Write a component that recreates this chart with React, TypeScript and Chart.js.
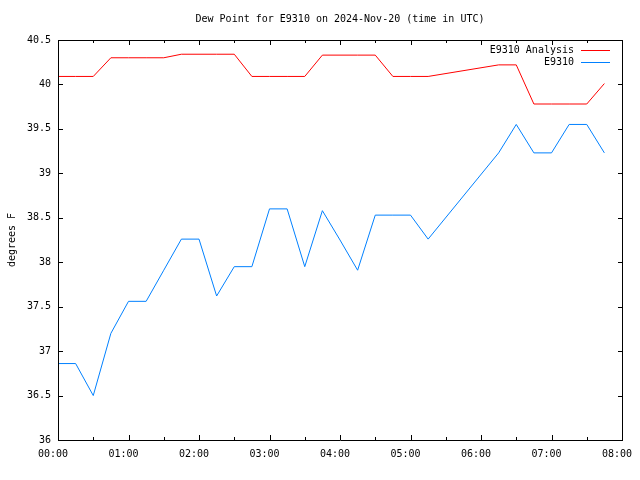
import React, { useEffect, useRef } from "react";
import { Chart, registerables } from "chart.js";

Chart.register(...registerables);

const chartTitle = "Dew Point for E9310 on 2024-Nov-20 (time in UTC)";
const yAxisTitle = "degrees F";
const seriesNames = ["E9310 Analysis", "E9310"];
const seriesColors = ["#ff0000", "#0080ff"];

const times = [
  "00:00", "00:15", "00:30", "00:45", "01:00", "01:15", "01:30", "01:45",
  "02:00", "02:15", "02:30", "02:45", "03:00", "03:15", "03:30", "03:45",
  "04:00", "04:15", "04:30", "04:45", "05:00", "05:15", "06:15", "06:30",
  "06:45", "07:00", "07:15", "07:30", "07:45",
];

const analysis = [
  40.09, 40.09, 40.09, 40.3, 40.3, 40.3, 40.3, 40.34,
  40.34, 40.34, 40.34, 40.09, 40.09, 40.09, 40.09, 40.33,
  40.33, 40.33, 40.33, 40.09, 40.09, 40.09, 40.22, 40.22,
  39.78, 39.78, 39.78, 39.78, 40.01,
];

const observed = [
  36.86, 36.86, 36.5, 37.2, 37.56, 37.56, 37.91, 38.26,
  38.26, 37.62, 37.95, 37.95, 38.6, 38.6, 37.95, 38.58,
  38.25, 37.91, 38.53, 38.53, 38.53, 38.26, 39.23, 39.55,
  39.23, 39.23, 39.55, 39.55, 39.23,
];

const xMin = 0;
const xMax = 480;
const xStep = 30;
const yMin = 36;
const yMax = 40.5;
const yStep = 0.5;

const FONT = "'DejaVu Sans Mono', 'Liberation Mono', monospace";

function toMinutes(t: string): number {
  const [h, m] = t.split(":").map(Number);
  return h * 60 + m;
}

function fmtTime(v: number): string {
  const h = Math.floor(v / 60);
  const m = v % 60;
  return `${String(h).padStart(2, "0")}:${String(m).padStart(2, "0")}`;
}

const framePlugin = {
  id: "gnuplotFrame",
  afterDraw(chart: any) {
    const { ctx, chartArea, scales } = chart;
    const { left, right, top, bottom } = chartArea;
    ctx.save();
    ctx.strokeStyle = "#000";
    ctx.lineWidth = 1;
    ctx.beginPath();
    ctx.rect(left + 0.5, top + 0.5, right - left, bottom - top);
    ctx.stroke();
    ctx.beginPath();
    const xs = scales.x;
    xs.ticks.forEach((t: any) => {
      const px = Math.round(xs.getPixelForValue(t.value)) + 0.5;
      const len = t.value % 60 === 0 ? 5 : 3;
      ctx.moveTo(px, bottom);
      ctx.lineTo(px, bottom - len);
      ctx.moveTo(px, top);
      ctx.lineTo(px, top + len);
    });
    const ys = scales.y;
    ys.ticks.forEach((t: any) => {
      const py = Math.round(ys.getPixelForValue(t.value)) + 0.5;
      ctx.moveTo(left, py);
      ctx.lineTo(left + 5, py);
      ctx.moveTo(right + 1, py);
      ctx.lineTo(right + 1 - 5, py);
    });
    ctx.stroke();

    // gnuplot-style key: text then line sample, top right
    ctx.font = `10px ${FONT}`;
    ctx.textAlign = "right";
    ctx.textBaseline = "middle";
    chart.data.datasets.forEach((ds: any, i: number) => {
      const y = top + 10 + i * 12;
      ctx.fillStyle = "#000";
      ctx.fillText(ds.label, right - 48, y);
      ctx.strokeStyle = ds.borderColor;
      ctx.beginPath();
      ctx.moveTo(right - 41, y + 0.5);
      ctx.lineTo(right - 12, y + 0.5);
      ctx.stroke();
    });
    ctx.restore();
  },
};

export default function App() {
  const ref = useRef<HTMLCanvasElement | null>(null);

  useEffect(() => {
    if (!ref.current) return;
    const mins = times.map(toMinutes);
    const chart = new Chart(ref.current, {
      type: "line",
      data: {
        datasets: [
          {
            label: seriesNames[0],
            data: mins.map((x, i) => ({ x, y: analysis[i] })),
            borderColor: seriesColors[0],
            backgroundColor: seriesColors[0],
            borderWidth: 1,
            pointRadius: 0,
            tension: 0,
            fill: false,
          },
          {
            label: seriesNames[1],
            data: mins.map((x, i) => ({ x, y: observed[i] })),
            borderColor: seriesColors[1],
            backgroundColor: seriesColors[1],
            borderWidth: 1,
            pointRadius: 0,
            tension: 0,
            fill: false,
          },
        ],
      },
      options: {
        animation: false,
        responsive: false,
        devicePixelRatio: 1,
        layout: { padding: { left: 0, right: 18, top: 0, bottom: 0 } },
        plugins: {
          legend: { display: false },
          tooltip: { enabled: false },
          title: {
            display: true,
            text: chartTitle,
            fullSize: false,
            color: "#000",
            font: { family: FONT, size: 10, weight: "normal", lineHeight: 1.2 },
            padding: { top: 13, bottom: 15 },
          },
        },
        scales: {
          x: {
            type: "linear",
            min: xMin,
            max: xMax,
            grid: { display: false, drawTicks: false },
            border: { display: false },
            ticks: {
              stepSize: xStep,
              autoSkip: false,
              maxRotation: 0,
              padding: 8,
              labelOffset: -5,
              color: "#000",
              font: { family: FONT, size: 10 },
              callback: (v: any) => (Number(v) % 60 === 0 ? fmtTime(Number(v)) : ""),
            },
            afterFit: (s: any) => {
              s.height = 40;
              s.paddingLeft = 0;
              s.paddingRight = 0;
            },
          },
          y: {
            type: "linear",
            min: yMin,
            max: yMax,
            grid: { display: false, drawTicks: false },
            border: { display: false },
            title: {
              display: true,
              text: yAxisTitle,
              color: "#000",
              font: { family: FONT, size: 10 },
              padding: { top: 6, bottom: 0 },
            },
            ticks: {
              stepSize: yStep,
              padding: 7,
              color: "#000",
              font: { family: FONT, size: 10 },
              callback: (v: any) => String(Number(v)),
            },
            afterFit: (s: any) => {
              s.width = 58;
              s.paddingTop = 0;
              s.paddingBottom = 0;
            },
          },
        },
      },
      plugins: [framePlugin],
    });
    return () => chart.destroy();
  }, []);

  return (
    <div style={{ position: "fixed", left: 0, top: 0, width: 640, height: 480, background: "#fff" }}>
      <canvas ref={ref} width={640} height={480} />
    </div>
  );
}
